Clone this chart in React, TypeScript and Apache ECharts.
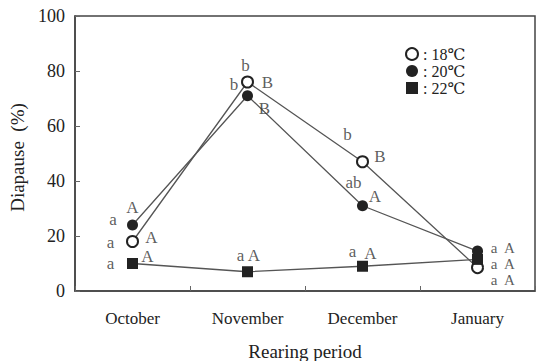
import React, { useEffect, useRef } from "react";
import * as echarts from "echarts";

// Rearing periods (x categories)
const months = ["October", "November", "December", "January"];
const yTicks = [0, 20, 40, 60, 80, 100];

// Diapause incidence (%) per rearing temperature
const seriesNames = ["18℃", "20℃", "22℃"];
const diapause18 = [18, 76, 47, 8.5];
const diapause20 = [24, 71, 31, 14.5];
const diapause22 = [10, 7, 9, 11.5];

// Significance letters: lowercase = among temperatures, uppercase = among periods
const lower18 = ["a", "b", "b", "a"];
const upper18 = ["A", "B", "B", "A"];
const lower20 = ["a", "b", "ab", "a"];
const upper20 = ["A", "B", "A", "A"];
const lower22 = ["a", "a", "a", "a"];
const upper22 = ["A", "A", "A", "A"];

// Pixel offsets of each letter from its marker
const lowerOff18 = [[-22, 1], [-2, -16.5], [-15, -27], [16.5, 12.4]];
const upperOff18 = [[19, -4], [20, 0], [17.5, -5], [32, 12.4]];
const lowerOff20 = [[-19.5, -6], [-13.5, -11], [-9, -23], [16.5, -3]];
const upperOff20 = [[0, -18], [17, 12.5], [12.5, -9], [32, -3]];
const lowerOff22 = [[-22, 0], [-7, -16.5], [-10, -15], [16.5, 4.6]];
const upperOff22 = [[15, -7.5], [6.5, -16.5], [8, -13], [32, 4.6]];

const FONT = "Liberation Serif, DejaVu Serif, Noto Sans CJK JP, serif";
const INK = "#222";
const LINE = "#555";

function letterSeries(values: number[], letters: string[], offsets: number[][]) {
  return {
    type: "scatter",
    silent: true,
    z: 5,
    symbolSize: 1,
    itemStyle: { color: "rgba(0,0,0,0)" },
    data: values.map((v, i) => ({
      value: [i, v],
      label: {
        show: true,
        position: "inside",
        offset: offsets[i],
        formatter: letters[i],
        fontFamily: FONT,
        // the stacked January column is set a little smaller
        fontSize: i === values.length - 1 ? 15 : 17,
        lineHeight: 13,
        color: "#333",
      },
    })),
  };
}

function lineSeries(name: string, values: number[], symbol: string, z: number) {
  return {
    name,
    type: "line",
    data: values,
    symbol,
    symbolSize: 11,
    z,
    itemStyle: { color: INK, borderColor: INK, borderWidth: symbol === "emptyCircle" ? 1.6 : 0 },
    lineStyle: { color: LINE, width: 1.3 },
  };
}

export default function App() {
  const ref = useRef<HTMLDivElement>(null);
  useEffect(() => {
    if (!ref.current) return;
    const chart = echarts.init(ref.current, undefined, { renderer: "svg" });
    chart.setOption({
      animation: false,
      backgroundColor: "#fff",
      textStyle: { fontFamily: FONT },
      grid: {
        left: 75,
        right: 8,
        top: 16,
        bottom: 70,
        containLabel: false,
        outerBoundsMode: "none",
        show: true,
        borderColor: "#444",
        borderWidth: 1.5,
      },
      legend: {
        orient: "vertical",
        left: 400,
        top: 41,
        itemWidth: 12,
        itemHeight: 12,
        itemGap: 1,
        data: [
          { name: seriesNames[0], icon: "emptyCircle" },
          { name: seriesNames[1], icon: "circle" },
          { name: seriesNames[2], icon: "rect" },
        ],
        formatter: (n: string) => ": " + n,
        textStyle: { fontFamily: FONT, fontSize: 16, color: INK },
      },
      xAxis: {
        type: "category",
        data: months,
        boundaryGap: true,
        name: "Rearing period",
        nameLocation: "middle",
        nameGap: 51,
        nameTextStyle: { fontFamily: FONT, fontSize: 19, color: INK },
        axisLine: { lineStyle: { color: "#444", width: 1.5 } },
        axisTick: { show: true, inside: true, length: 5, lineStyle: { color: "#666" } },
        axisLabel: { fontFamily: FONT, fontSize: 17, color: INK, margin: 19 },
        splitLine: { show: false },
      },
      yAxis: {
        type: "value",
        min: yTicks[0],
        max: yTicks[yTicks.length - 1],
        interval: yTicks[1] - yTicks[0],
        name: "Diapause  (%)",
        nameLocation: "middle",
        nameGap: 44,
        nameTextStyle: { fontFamily: FONT, fontSize: 19, color: INK, padding: [0, 8, 0, 0] },
        axisLine: { show: true, lineStyle: { color: "#444", width: 1.5 } },
        axisTick: { show: true, inside: true, length: 5, lineStyle: { color: "#666" } },
        axisLabel: { fontFamily: FONT, fontSize: 18, color: INK, margin: 10 },
        splitLine: { show: false },
      },
      series: [
        lineSeries(seriesNames[0], diapause18, "emptyCircle", 2),
        lineSeries(seriesNames[2], diapause22, "rect", 3),
        lineSeries(seriesNames[1], diapause20, "circle", 4),
        letterSeries(diapause18, lower18, lowerOff18),
        letterSeries(diapause18, upper18, upperOff18),
        letterSeries(diapause20, lower20, lowerOff20),
        letterSeries(diapause20, upper20, upperOff20),
        letterSeries(diapause22, lower22, lowerOff22),
        letterSeries(diapause22, upper22, upperOff22),
      ],
    });
    return () => chart.dispose();
  }, []);
  return (
    <div
      ref={ref}
      style={{ position: "fixed", left: 0, top: 0, width: 543, height: 361 }}
    />
  );
}
